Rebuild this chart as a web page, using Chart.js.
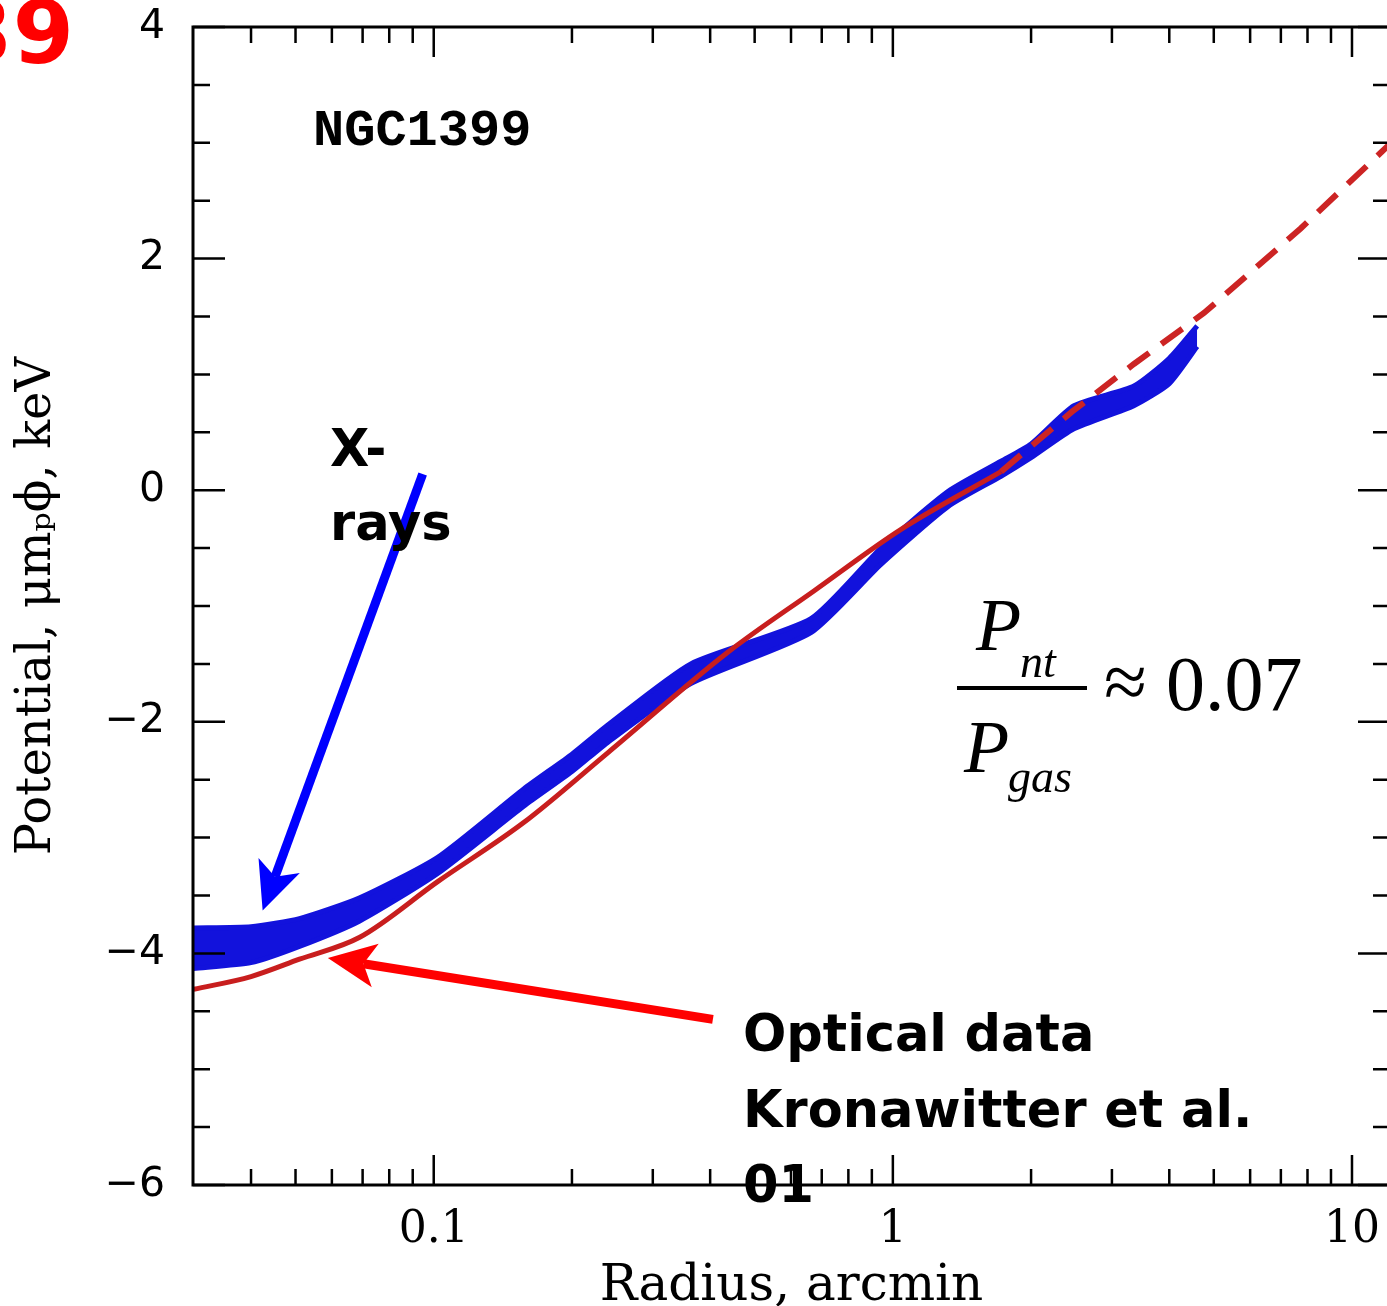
<!DOCTYPE html>
<html>
<head>
<meta charset="utf-8">
<script src="https://cdn.jsdelivr.net/npm/chart.js@4.4.1/dist/chart.umd.min.js"></script>
<style>
  html, body { margin: 0; padding: 0; background: #fff; overflow: hidden; }
</style>
</head>
<body>
<canvas id="my-canvas" width="1392" height="1306"></canvas>
<script>
// X-ray band (upper / lower edge), radius in arcmin, potential in keV
const bandRadius = [0.030, 0.040, 0.051, 0.069, 0.102, 0.157, 0.200, 0.239, 0.363, 0.663, 0.942, 1.32, 1.72, 2.00, 2.48, 3.35, 4.00, 4.60];
const bandUpper = [-3.78, -3.77, -3.70, -3.52, -3.17, -2.58, -2.28, -2.03, -1.50, -1.11, -0.50, -0.01, 0.25, 0.40, 0.73, 0.90, 1.14, 1.42];
const bandLower = [-4.13, -4.08, -3.94, -3.72, -3.31, -2.73, -2.43, -2.18, -1.67, -1.23, -0.64, -0.14, 0.12, 0.28, 0.53, 0.73, 0.92, 1.24];

// optical (Kronawitter et al. 01) model, solid part and dashed extrapolation
const opticalRadius = [0.030, 0.040, 0.051, 0.069, 0.102, 0.157, 0.239, 0.437, 0.673, 1.04, 1.72];
const opticalValue = [-4.31, -4.20, -4.05, -3.86, -3.38, -2.87, -2.27, -1.40, -0.87, -0.34, 0.16];
const extrapRadius = [1.72, 2.46, 3.35, 4.76, 7.73, 12.1];
const extrapValue = [0.16, 0.68, 1.09, 1.53, 2.26, 2.99];

const xMajorTicks = [0.1, 1, 10];
const xTickLabels = ['0.1', '1', '10'];
const xMinorTicks = [0.04, 0.05, 0.06, 0.07, 0.08, 0.09, 0.2, 0.3, 0.4, 0.5, 0.6, 0.7, 0.8, 0.9, 2, 3, 4, 5, 6, 7, 8, 9];
const yLabelTicks = [-6, -4, -2, 0, 2, 4];

// annotation arrows in data coordinates [from, to]
const xrayArrow = [[0.0946, 0.14], [0.0424, -3.63]];
const opticalArrow = [[0.4055, -4.57], [0.0588, -4.04]];

const toPoints = (xs, ys) => xs.map((x, i) => ({ x, y: ys[i] }));

function drawArrow(ctx, x1, y1, x2, y2, color, width, headLen, headHalf) {
  const ang = Math.atan2(y2 - y1, x2 - x1);
  const cos = Math.cos(ang), sin = Math.sin(ang);
  const bx = x2 - cos * headLen * 0.75, by = y2 - sin * headLen * 0.75;
  ctx.save();
  ctx.strokeStyle = color;
  ctx.fillStyle = color;
  ctx.lineWidth = width;
  ctx.beginPath();
  ctx.moveTo(x1, y1);
  ctx.lineTo(bx, by);
  ctx.stroke();
  ctx.beginPath();
  ctx.moveTo(x2, y2);
  ctx.lineTo(x2 - cos * headLen - sin * headHalf, y2 - sin * headLen + cos * headHalf);
  ctx.lineTo(bx, by);
  ctx.lineTo(x2 - cos * headLen + sin * headHalf, y2 - sin * headLen - cos * headHalf);
  ctx.closePath();
  ctx.fill();
  ctx.restore();
}

const frameTicks = {
  id: 'frameTicks',
  afterDatasetsDraw(chart) {
    const { ctx, chartArea: a, scales: { x, y } } = chart;
    ctx.save();
    ctx.strokeStyle = '#000';
    ctx.lineWidth = 3;
    ctx.strokeRect(a.left, a.top, a.right - a.left, a.bottom - a.top);
    ctx.lineWidth = 2.5;
    ctx.beginPath();
    const xt = (v, len) => {
      const px = x.getPixelForValue(v);
      ctx.moveTo(px, a.bottom); ctx.lineTo(px, a.bottom - len);
      ctx.moveTo(px, a.top); ctx.lineTo(px, a.top + len);
    };
    xMajorTicks.forEach(v => xt(v, 30));
    xMinorTicks.forEach(v => xt(v, 16));
    for (let v = -6; v <= 4; v += 0.5) {
      const len = yLabelTicks.includes(v) ? 32 : 17;
      const py = y.getPixelForValue(v);
      ctx.moveTo(a.left, py); ctx.lineTo(a.left + len, py);
      ctx.moveTo(a.right, py); ctx.lineTo(a.right - len, py);
    }
    ctx.stroke();
    ctx.restore();
  }
};

const annotations = {
  id: 'annotations',
  afterDraw(chart) {
    const { ctx, scales: { x, y } } = chart;
    const px = p => [x.getPixelForValue(p[0]), y.getPixelForValue(p[1])];
    ctx.save();

    let [a1, b1] = px(xrayArrow[0]);
    let [a2, b2] = px(xrayArrow[1]);
    drawArrow(ctx, a1, b1, a2, b2, '#0000ff', 9, 48, 22);
    [a1, b1] = px(opticalArrow[0]);
    [a2, b2] = px(opticalArrow[1]);
    drawArrow(ctx, a1, b1, a2, b2, '#ff0000', 9, 48, 22);

    ctx.textBaseline = 'alphabetic';
    ctx.textAlign = 'right';
    ctx.fillStyle = '#ff0000';
    ctx.font = 'bold 88px "DejaVu Sans"';
    ctx.fillText('39', 74, 63);

    ctx.textAlign = 'left';
    ctx.fillStyle = '#000';
    ctx.font = 'bold 52px "Liberation Mono"';
    ctx.fillText('NGC1399', 313, 145);

    ctx.font = 'bold 51px "DejaVu Sans"';
    ctx.fillText('X-', 330, 466);
    ctx.fillText('rays', 330, 540);
    ctx.fillText('Optical data', 743, 1051);
    ctx.fillText('Kronawitter et al.', 743, 1127);
    ctx.fillText('01', 743, 1202);

    // P_nt / P_gas ≈ 0.07
    ctx.font = 'italic 74px "Liberation Serif"';
    ctx.fillText('P', 976, 650);
    ctx.fillText('P', 964, 772);
    ctx.font = 'italic 46px "Liberation Serif"';
    ctx.fillText('nt', 1020, 677);
    ctx.fillText('gas', 1008, 792);
    ctx.fillRect(957, 686, 130, 4);
    ctx.font = '78px "Liberation Serif"';
    ctx.fillText('\u2248', 1104, 708);
    ctx.fillText('0.07', 1166, 710);
    ctx.restore();
  }
};

const config = {
  type: 'line',
  data: {
    datasets: [
      {
        label: 'Optical',
        data: toPoints(opticalRadius, opticalValue),
        borderColor: '#c81e1e',
        borderWidth: 5,
        pointRadius: 0,
        cubicInterpolationMode: 'monotone',
        fill: false,
      },
      {
        label: 'Extrapolation',
        data: toPoints(extrapRadius, extrapValue),
        borderColor: '#cc2424',
        borderWidth: 6,
        borderDash: [26, 15],
        pointRadius: 0,
        fill: false,
      },
      {
        label: 'X-rays upper',
        data: toPoints(bandRadius, bandUpper),
        borderColor: '#1212dc',
        borderWidth: 5,
        pointRadius: 0,
        tension: 0.2,
        fill: false,
      },
      {
        label: 'X-rays lower',
        data: toPoints(bandRadius, bandLower),
        borderColor: '#1212dc',
        backgroundColor: '#1212dc',
        borderWidth: 5,
        pointRadius: 0,
        tension: 0.2,
        fill: '-1',
      },
    ],
  },
  options: {
    responsive: false,
    animation: false,
    events: [],
    layout: { padding: { top: 27, right: 2, left: 0, bottom: 0 } },
    plugins: {
      legend: { display: false },
      tooltip: { enabled: false },
    },
    scales: {
      x: {
        type: 'logarithmic',
        position: 'bottom',
        min: 0.0299,
        max: 12.1,
        grid: { display: false, drawTicks: false },
        border: { display: false },
        afterBuildTicks: scale => {
          scale.ticks = xMajorTicks.map(v => ({ value: v, major: true }));
        },
        afterFit: scale => {
          scale.height = 121;
          scale.paddingLeft = 0;
          scale.paddingRight = 0;
        },
        ticks: {
          autoSkip: false,
          maxRotation: 0,
          padding: 19,
          color: '#000',
          font: { family: 'DejaVu Serif', size: 44 },
          callback: v => xTickLabels[xMajorTicks.indexOf(v)] ?? '',
        },
        title: {
          display: true,
          text: 'Radius, arcmin',
          color: '#000',
          font: { family: 'DejaVu Serif', size: 50, lineHeight: 0.76 },
          padding: { top: 0, bottom: 0 },
        },
      },
      y: {
        type: 'linear',
        position: 'left',
        min: -6,
        max: 4,
        grid: { display: false, drawTicks: false },
        border: { display: false },
        afterBuildTicks: scale => {
          scale.ticks = yLabelTicks.map(v => ({ value: v }));
        },
        afterFit: scale => {
          scale.width = 193;
          scale.paddingTop = 0;
          scale.paddingBottom = 0;
        },
        ticks: {
          padding: 28,
          color: '#000',
          font: { family: 'DejaVu Sans', size: 41 },
          callback: v => String(v).replace('-', '\u2212'),
        },
        title: {
          display: true,
          text: 'Potential, \u03bcm\u209a\u03d5, keV',
          color: '#000',
          font: { family: 'DejaVu Serif', size: 48, lineHeight: 1 },
          padding: { top: 14, bottom: 0 },
        },
      },
    },
  },
  plugins: [frameTicks, annotations],
};

new Chart('my-canvas', config);
</script>
</body>
</html>
